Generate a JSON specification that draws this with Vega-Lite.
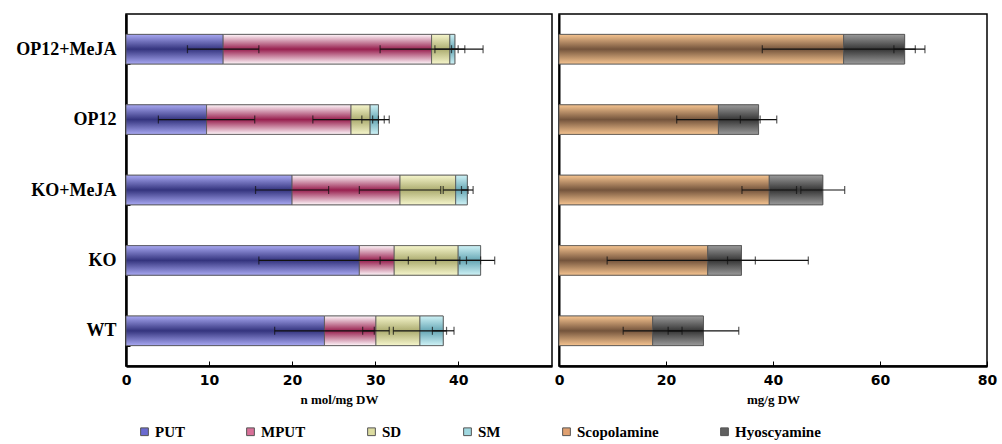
{
 "$schema": "https://vega.github.io/schema/vega-lite/v6.json",
 "background": "white",
 "padding": {"left": 15, "top": 4, "right": 19, "bottom": 0},
 "datasets": {
  "amines": [
   {"group": "OP12+MeJA", "series": "PUT", "k": 1, "value": 11.7, "sd": 4.3},
   {"group": "OP12+MeJA", "series": "MPUT", "k": 2, "value": 25.1, "sd": 6.2},
   {"group": "OP12+MeJA", "series": "SD", "k": 3, "value": 2.2, "sd": 1.8},
   {"group": "OP12+MeJA", "series": "SM", "k": 4, "value": 0.6, "sd": 0.4},
   {"group": "OP12", "series": "PUT", "k": 1, "value": 9.7, "sd": 5.8},
   {"group": "OP12", "series": "MPUT", "k": 2, "value": 17.4, "sd": 4.6},
   {"group": "OP12", "series": "SD", "k": 3, "value": 2.3, "sd": 1.0},
   {"group": "OP12", "series": "SM", "k": 4, "value": 1.0, "sd": 0.7},
   {"group": "KO+MeJA", "series": "PUT", "k": 1, "value": 20.0, "sd": 4.4},
   {"group": "KO+MeJA", "series": "MPUT", "k": 2, "value": 13.0, "sd": 4.9},
   {"group": "KO+MeJA", "series": "SD", "k": 3, "value": 6.7, "sd": 1.5},
   {"group": "KO+MeJA", "series": "SM", "k": 4, "value": 1.4, "sd": 0.7},
   {"group": "KO", "series": "PUT", "k": 1, "value": 28.1, "sd": 12.1},
   {"group": "KO", "series": "MPUT", "k": 2, "value": 4.2, "sd": 1.7},
   {"group": "KO", "series": "SD", "k": 3, "value": 7.7, "sd": 2.7},
   {"group": "KO", "series": "SM", "k": 4, "value": 2.7, "sd": 1.7},
   {"group": "WT", "series": "PUT", "k": 1, "value": 23.9, "sd": 6.0},
   {"group": "WT", "series": "MPUT", "k": 2, "value": 6.2, "sd": 1.6},
   {"group": "WT", "series": "SD", "k": 3, "value": 5.3, "sd": 3.2},
   {"group": "WT", "series": "SM", "k": 4, "value": 2.8, "sd": 1.3}
  ],
  "alkaloids": [
   {"group": "OP12+MeJA", "series": "Scopolamine", "k": 1, "value": 53.2, "sd": 15.2},
   {"group": "OP12+MeJA", "series": "Hyoscyamine", "k": 2, "value": 11.4, "sd": 2.0},
   {"group": "OP12", "series": "Scopolamine", "k": 1, "value": 29.8, "sd": 7.8},
   {"group": "OP12", "series": "Hyoscyamine", "k": 2, "value": 7.5, "sd": 3.4},
   {"group": "KO+MeJA", "series": "Scopolamine", "k": 1, "value": 39.3, "sd": 5.1},
   {"group": "KO+MeJA", "series": "Hyoscyamine", "k": 2, "value": 10.0, "sd": 4.1},
   {"group": "KO", "series": "Scopolamine", "k": 1, "value": 27.8, "sd": 18.8},
   {"group": "KO", "series": "Hyoscyamine", "k": 2, "value": 6.3, "sd": 2.6},
   {"group": "WT", "series": "Scopolamine", "k": 1, "value": 17.5, "sd": 5.5},
   {"group": "WT", "series": "Hyoscyamine", "k": 2, "value": 9.5, "sd": 6.6}
  ]
 },
 "spacing": 0,
 "resolve": {"scale": {"color": "shared"}},
 "hconcat": [
  {
   "width": 426,
   "height": 352,
   "data": {"name": "amines"},
   "transform": [
    {"window": [{"op": "sum", "field": "value", "as": "cum"}], "groupby": ["group"], "sort": [{"field": "k"}], "frame": [null, 0]},
    {"calculate": "datum.cum - datum.value", "as": "start"},
    {"calculate": "datum.cum - datum.sd", "as": "lo"},
    {"calculate": "datum.cum + datum.sd", "as": "hi"}
   ],
   "encoding": {
    "y": {"field": "group", "type": "nominal", "sort": ["OP12+MeJA", "OP12", "KO+MeJA", "KO", "WT"],
      "scale": {"paddingInner": 0.58, "paddingOuter": 0.29},
      "axis": {"title": null, "labelFont": "Liberation Serif", "labelFontWeight": "bold", "labelFontSize": 18, "labelColor": "black", "tickBand": "extent", "tickSize": -4, "labelPadding": 14, "domainWidth": 2.5}}
   },
   "layer": [
    {"mark": {"type": "bar", "stroke": "#555", "strokeWidth": 0.8},
     "encoding": {
      "x": {"field": "start", "type": "quantitative", "scale": {"domain": [0, 51.3], "nice": false},
        "axis": {"title": "n mol/mg DW", "values": [0, 10, 20, 30, 40]}},
      "x2": {"field": "cum"},
      "color": {"field": "series", "type": "nominal",
        "scale": {"domain": ["PUT", "MPUT", "SD", "SM", "Scopolamine", "Hyoscyamine"],
                  "range": ["#6a6ad0", "#d87098", "#dcdca0", "#a0d8e0", "#e0a070", "#606060"]},
        "legend": {"orient": "none", "legendX": 11, "legendY": 410, "direction": "horizontal", "title": null,
          "symbolType": "square", "symbolSize": 60, "labelFont": "Liberation Serif", "labelFontWeight": "bold",
          "labelFontSize": 15, "labelColor": "black", "columnPadding": 58, "symbolStrokeColor": "#333", "symbolStrokeWidth": 1, "labelOffset": 3, "symbolOpacity": 1}}
     }},
    {"transform": [{"filter": "datum.series === 'PUT'"}],
     "mark": {"type": "bar", "stroke": "#555", "strokeWidth": 0.8,
      "fill": {"gradient": "linear", "x1": 0, "y1": 0, "x2": 0, "y2": 1, "stops": [{"offset": 0, "color": "#a8a8f2"}, {"offset": 0.5, "color": "#34347e"}, {"offset": 1, "color": "#a8a8f2"}]}},
     "encoding": {"x": {"field": "start", "type": "quantitative"}, "x2": {"field": "cum"}}},
    {"transform": [{"filter": "datum.series === 'MPUT'"}],
     "mark": {"type": "bar", "stroke": "#555", "strokeWidth": 0.8,
      "fill": {"gradient": "linear", "x1": 0, "y1": 0, "x2": 0, "y2": 1, "stops": [{"offset": 0, "color": "#fff6fa"}, {"offset": 0.5, "color": "#98204f"}, {"offset": 1, "color": "#fff6fa"}]}},
     "encoding": {"x": {"field": "start", "type": "quantitative"}, "x2": {"field": "cum"}}},
    {"transform": [{"filter": "datum.series === 'SD'"}],
     "mark": {"type": "bar", "stroke": "#555", "strokeWidth": 0.8,
      "fill": {"gradient": "linear", "x1": 0, "y1": 0, "x2": 0, "y2": 1, "stops": [{"offset": 0, "color": "#f6f6cc"}, {"offset": 0.5, "color": "#acac70"}, {"offset": 1, "color": "#f6f6cc"}]}},
     "encoding": {"x": {"field": "start", "type": "quantitative"}, "x2": {"field": "cum"}}},
    {"transform": [{"filter": "datum.series === 'SM'"}],
     "mark": {"type": "bar", "stroke": "#555", "strokeWidth": 0.8,
      "fill": {"gradient": "linear", "x1": 0, "y1": 0, "x2": 0, "y2": 1, "stops": [{"offset": 0, "color": "#cef2f6"}, {"offset": 0.5, "color": "#66a6b4"}, {"offset": 1, "color": "#cef2f6"}]}},
     "encoding": {"x": {"field": "start", "type": "quantitative"}, "x2": {"field": "cum"}}},
    {"mark": {"type": "rule", "color": "#111", "strokeWidth": 1.2},
     "encoding": {"x": {"field": "lo", "type": "quantitative"}, "x2": {"field": "hi"}}},
    {"mark": {"type": "tick", "color": "#111", "size": 8, "thickness": 1.2},
     "encoding": {"x": {"field": "lo", "type": "quantitative"}}},
    {"mark": {"type": "tick", "color": "#111", "size": 8, "thickness": 1.2},
     "encoding": {"x": {"field": "hi", "type": "quantitative"}}}
   ]
  },
  {
   "width": 428,
   "height": 352,
   "data": {"name": "alkaloids"},
   "transform": [
    {"window": [{"op": "sum", "field": "value", "as": "cum"}], "groupby": ["group"], "sort": [{"field": "k"}], "frame": [null, 0]},
    {"calculate": "datum.cum - datum.value", "as": "start"},
    {"calculate": "datum.cum - datum.sd", "as": "lo"},
    {"calculate": "datum.cum + datum.sd", "as": "hi"}
   ],
   "encoding": {
    "y": {"field": "group", "type": "nominal", "sort": ["OP12+MeJA", "OP12", "KO+MeJA", "KO", "WT"],
      "scale": {"paddingInner": 0.58, "paddingOuter": 0.29},
      "axis": {"title": null, "labels": false, "ticks": false, "domainWidth": 2}}
   },
   "layer": [
    {"mark": {"type": "bar", "stroke": "#555", "strokeWidth": 0.8},
     "encoding": {
      "x": {"field": "start", "type": "quantitative", "scale": {"domain": [0, 80], "nice": false},
        "axis": {"title": "mg/g DW", "values": [0, 20, 40, 60, 80]}},
      "x2": {"field": "cum"},
      "color": {"field": "series", "type": "nominal"}
     }},
    {"transform": [{"filter": "datum.series === 'Scopolamine'"}],
     "mark": {"type": "bar", "stroke": "#555", "strokeWidth": 0.8,
      "fill": {"gradient": "linear", "x1": 0, "y1": 0, "x2": 0, "y2": 1, "stops": [{"offset": 0, "color": "#f6c490"}, {"offset": 0.5, "color": "#74543c"}, {"offset": 1, "color": "#f6c490"}]}},
     "encoding": {"x": {"field": "start", "type": "quantitative"}, "x2": {"field": "cum"}}},
    {"transform": [{"filter": "datum.series === 'Hyoscyamine'"}],
     "mark": {"type": "bar", "stroke": "#555", "strokeWidth": 0.8,
      "fill": {"gradient": "linear", "x1": 0, "y1": 0, "x2": 0, "y2": 1, "stops": [{"offset": 0, "color": "#9a9a9a"}, {"offset": 0.5, "color": "#363636"}, {"offset": 1, "color": "#9a9a9a"}]}},
     "encoding": {"x": {"field": "start", "type": "quantitative"}, "x2": {"field": "cum"}}},
    {"mark": {"type": "rule", "color": "#111", "strokeWidth": 1.2},
     "encoding": {"x": {"field": "lo", "type": "quantitative"}, "x2": {"field": "hi"}}},
    {"mark": {"type": "tick", "color": "#111", "size": 8, "thickness": 1.2},
     "encoding": {"x": {"field": "lo", "type": "quantitative"}}},
    {"mark": {"type": "tick", "color": "#111", "size": 8, "thickness": 1.2},
     "encoding": {"x": {"field": "hi", "type": "quantitative"}}}
   ]
  }
 ],
 "config": {
  "view": {"stroke": "black", "strokeWidth": 1.5},
  "axis": {"domainColor": "black", "tickColor": "black", "grid": false, "labelColor": "black", "titleColor": "black"},
  "axisX": {"domainWidth": 2.5, "labelFont": "DejaVu Sans", "labelFontWeight": "bold", "labelFontSize": 14, "tickSize": -5, "labelPadding": 12, "labelFlush": false,
    "titleFont": "Liberation Serif", "titleFontWeight": "bold", "titleFontSize": 13, "titlePadding": 6}
 }
}
